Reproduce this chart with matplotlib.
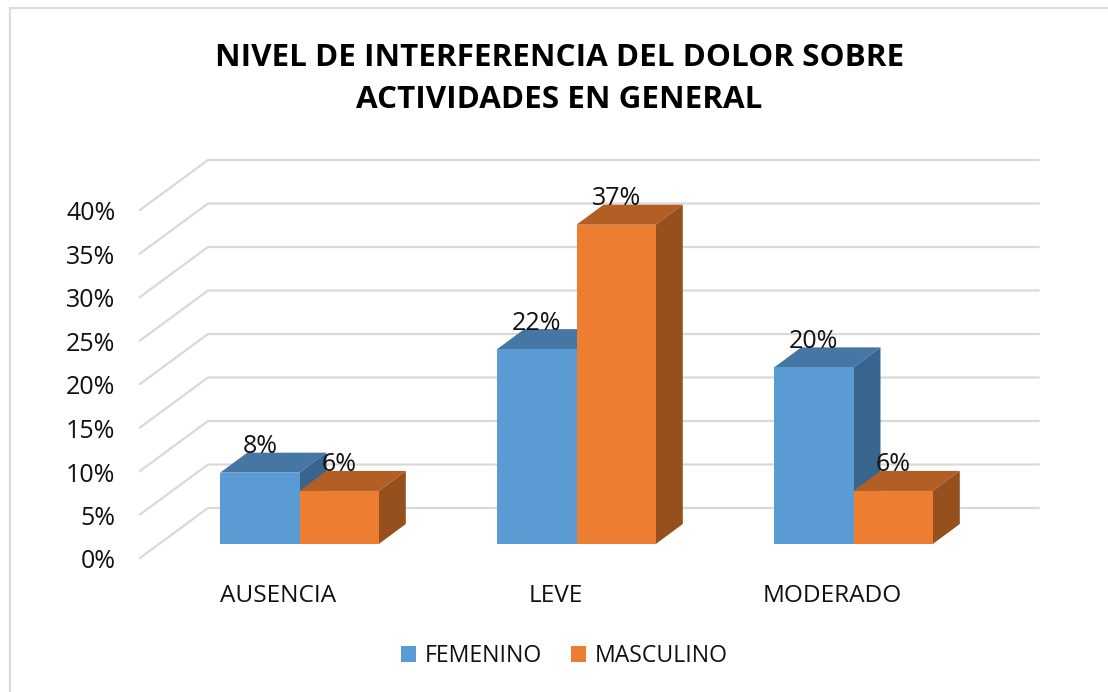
import matplotlib
matplotlib.use("Agg")
import matplotlib.pyplot as plt
from matplotlib.lines import Line2D
from matplotlib.patches import Patch, Polygon, Rectangle

plt.rcParams['font.family'] = ['Open Sans', 'DejaVu Sans']

categorias = ["AUSENCIA", "LEVE", "MODERADO"]
femenino = [8.2, 22.4, 20.3]
masculino = [6.1, 36.7, 6.1]
etiq_fem = ["8%", "22%", "20%"]
etiq_mas = ["6%", "37%", "6%"]
ticks = [0, 5, 10, 15, 20, 25, 30, 35, 40]

W, H = 1108, 692
PX_X = 277.0   # px par categorie
PX_Y = 8.7     # px par %
x_px = lambda p: p / PX_X
y_px = lambda p: p / PX_Y

fig = plt.figure(figsize=(W / 100, H / 100), dpi=100)
# cadre : seulement a gauche et en haut, coupe par le bord de l'image
fig.add_artist(Line2D([9.5 / W, 9.5 / W, 1], [0, 1 - 8 / H, 1 - 8 / H], color="#dcdcdc", lw=1.6,
                      solid_joinstyle="miter"))

# axe calé sur le plan avant : 0% a y=558px, 40% a y=210px
ax = fig.add_axes([140 / W, 1 - 558 / H, 830 / W, 348 / H])
ax.set_xlim(x_px(-159.5), x_px(670.5))
ax.set_ylim(0, 40)
ax.axis("off")

largeur = x_px(79.3)
dx, dy = x_px(27), y_px(20)          # profondeur des barres
base = y_px(14)                      # pied des barres
mur_dx, mur_dy = x_px(68), y_px(50)  # profondeur du mur
x_gauche, x_droite = x_px(-159.5), x_px(739)

for t in ticks:
    ax.plot([x_gauche, x_gauche + mur_dx, x_droite], [t, t + mur_dy, t + mur_dy],
            color="#d9d9d9", lw=1.6, clip_on=False, zorder=1, solid_joinstyle="miter")
    ax.text(x_px(-184), t - y_px(4), str(t) + "%", ha="right", va="center", fontsize=18, color="#111111")


def barre(x, v, front, top, side, z):
    h = base + v
    ax.add_patch(Polygon([(x, h), (x + largeur, h), (x + largeur + dx, h + dy), (x + dx, h + dy)],
                         fc=top, ec="none", zorder=z, clip_on=False))
    ax.add_patch(Polygon([(x + largeur, base), (x + largeur + dx, base + dy), (x + largeur + dx, h + dy), (x + largeur, h)],
                         fc=side, ec="none", zorder=z, clip_on=False))
    ax.add_patch(Rectangle((x, base), largeur, v, fc=front, ec="none", zorder=z + 0.1, clip_on=False))


for i in range(len(categorias)):
    barre(i - largeur, femenino[i], "#5b9bd5", "#4676a3", "#38658e", 2)
    barre(i, masculino[i], "#ed7d31", "#b35e24", "#95501d", 3)
    ax.text(i - largeur / 2, base + femenino[i] + dy + y_px(6), etiq_fem[i],
            ha="center", va="center", fontsize=18, color="#111111", zorder=5)
    ax.text(i + largeur / 2, base + masculino[i] + dy + y_px(6), etiq_mas[i],
            ha="center", va="center", fontsize=18, color="#111111", zorder=5)
    ax.text(i - x_px(21), -y_px(37.5), categorias[i], ha="center", va="center",
            fontsize=17.6, color="#111111", clip_on=False)

fig.text(559.5 / W, 1 - 79 / H, "NIVEL DE INTERFERENCIA DEL DOLOR SOBRE\nACTIVIDADES EN GENERAL",
         ha="center", va="center", fontsize=22.6, fontweight="bold", color="black", linespacing=1.55)

poignees = [Patch(fc="#5b9bd5", ec="none", label="FEMENINO"), Patch(fc="#ed7d31", ec="none", label="MASCULINO")]
fig.legend(handles=poignees, loc="center", bbox_to_anchor=(564.5 / W, 1 - 656 / H), ncol=2, frameon=False,
           fontsize=16.6, handlelength=0.65, handleheight=0.75, handletextpad=0.4, columnspacing=1.25,
           labelcolor="#111111")

fig.savefig("out.png", dpi=100)
